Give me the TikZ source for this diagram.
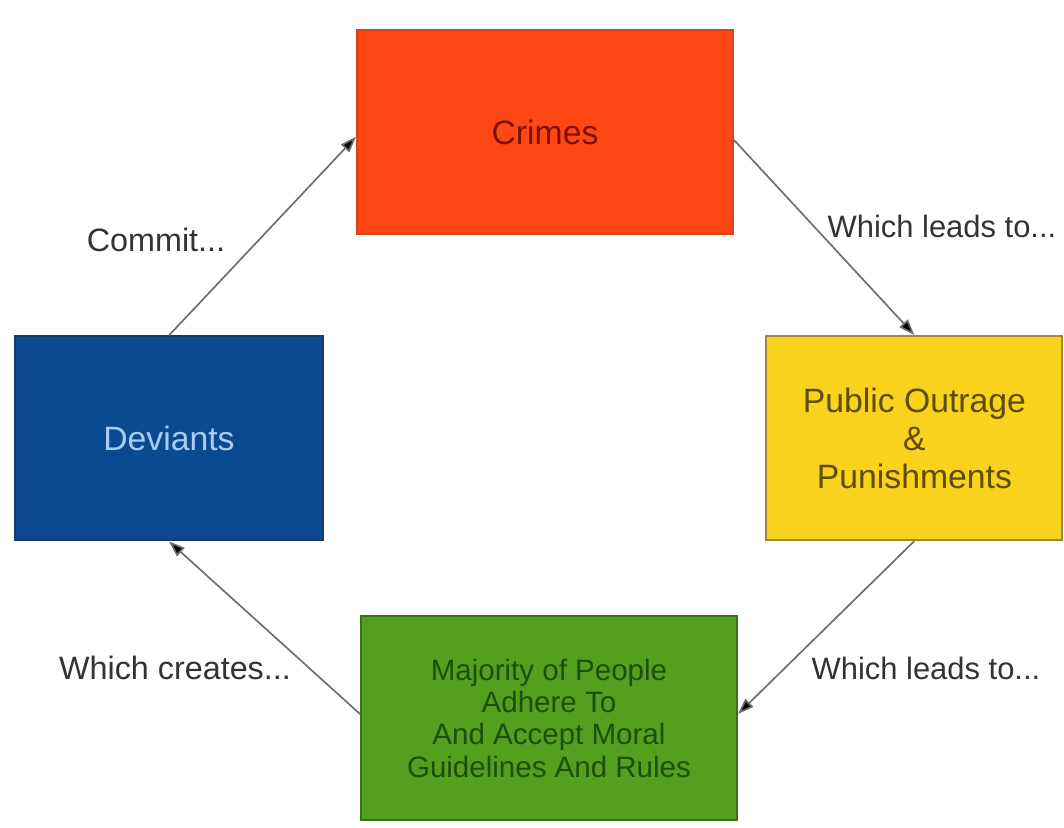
\documentclass[tikz,border=0pt]{standalone}
\usepackage{fontspec}
\setmainfont{Liberation Sans}
\usepackage{tikz}
\usetikzlibrary{arrows.meta}

\definecolor{crimefill}{HTML}{FF4713}
\definecolor{crimeline}{HTML}{D2461E}
\definecolor{crimetext}{HTML}{7A1208}
\definecolor{outragefill}{HTML}{F9D21E}
\definecolor{outrageline}{HTML}{9C8A3A}
\definecolor{outragetext}{HTML}{5E4C00}
\definecolor{majorfill}{HTML}{52A01E}
\definecolor{majorline}{HTML}{3C6E1E}
\definecolor{majortext}{HTML}{1C4F0A}
\definecolor{deviantfill}{HTML}{0B4A91}
\definecolor{deviantline}{HTML}{1A3A66}
\definecolor{devianttext}{HTML}{A9CDF2}
\definecolor{linkgray}{HTML}{6E6E6E}
\definecolor{labelgray}{HTML}{333333}

\begin{document}
\begin{tikzpicture}[box/.style = {rectangle, draw, line width = 1.4pt, align = center,
                                  inner sep = 0pt, minimum height = 5.1cm,
                                  font = \fontsize{24}{27}\selectfont},
                    link/.style = {draw = linkgray, line width = 1.2pt,
                                   -{Triangle[length = 0.4cm, width = 0.28cm, fill = black]}},
                    step label/.style = {text = labelgray, font = \fontsize{22}{26}\selectfont}]

\useasboundingbox (0,0) rectangle (26.6,20.7);

% boxes
\node [box, fill = crimefill, draw = crimeline, text = crimetext,
       minimum width = 9.4cm] (crimes) at (13.625,17.4) {Crimes};
\node [box, fill = outragefill, draw = outrageline, text = outragetext,
       minimum width = 7.4cm] (outrage) at (22.86,9.75) {Public Outrage \\ \& \\ Punishments};
\node [box, fill = majorfill, draw = majorline, text = majortext,
       minimum width = 9.4cm, font = \fontsize{21}{23}\selectfont]
       (majority) at (13.725,2.75) {Majority of People \\ Adhere To \\ And Accept Moral \\ Guidelines And Rules};
\node [box, fill = deviantfill, draw = deviantline, text = devianttext,
       minimum width = 7.7cm] (deviants) at (4.225,9.74) {Deviants};

% connectors
\draw [link] (deviants.north) -- ([yshift=-0.12cm]crimes.west);
\draw [link] ([yshift=-0.2cm]crimes.east) -- (outrage.north);
\draw [link] (outrage.south) -- ([yshift=0.1cm]majority.east);
\draw [link] ([yshift=0.1cm]majority.west) -- (deviants.south);

% labels
\node [step label, font = \fontsize{23}{26}\selectfont] (commit) at (3.9,14.7) {Commit...};
\node [step label] (leads top) at (23.55,15.05) {Which leads to...};
\node [step label, font = \fontsize{23}{26}\selectfont] (creates) at (4.375,4.0) {Which creates...};
\node [step label] (leads bottom) at (23.15,4.0) {Which leads to...};
\end{tikzpicture}
\end{document}
